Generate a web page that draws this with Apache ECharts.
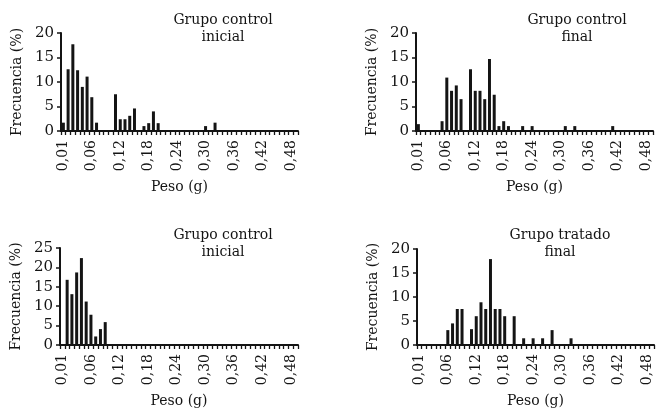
<!DOCTYPE html>
<html>
<head>
<meta charset="utf-8">
<script src="https://cdn.jsdelivr.net/npm/echarts@6/dist/echarts.min.js"></script>
<style>
  html, body { margin: 0; padding: 0; background: #fff; }
  #chart { width: 656px; height: 411px; }
</style>
</head>
<body>
<div id="chart"></div>
<script>
// weight bins of 0.01 g, only every sixth one gets a label
const bins = Array.from({ length: 50 }, (_, i) => (i / 100).toFixed(2).replace('.', ','));
const tickLabels = ['0,01', '0,06', '0,12', '0,18', '0,24', '0,30', '0,36', '0,42', '0,48'];

// [bin index, frecuencia %]
const controlInicialA = [
  [0, 1.7], [1, 12.6], [2, 17.7], [3, 12.4], [4, 9.0], [5, 11.1], [6, 6.9], [7, 1.7],
  [11, 7.5], [12, 2.4], [13, 2.4], [14, 3.1], [15, 4.6], [17, 1.0], [18, 1.6], [19, 4.0],
  [20, 1.6], [30, 1.0], [32, 1.7]
];
const controlFinal = [
  [0, 1.4], [5, 2.0], [6, 10.9], [7, 8.2], [8, 9.3], [9, 6.5], [11, 12.6], [12, 8.2],
  [13, 8.2], [14, 6.5], [15, 14.7], [16, 7.4], [17, 1.0], [18, 2.0], [19, 1.0], [22, 1.0],
  [24, 1.0], [31, 1.0], [33, 1.0], [41, 1.0]
];
const controlInicialB = [
  [1, 16.8], [2, 13.1], [3, 18.7], [4, 22.4], [5, 11.2], [6, 7.8], [7, 2.2], [8, 4.1], [9, 5.9]
];
const tratadoFinal = [
  [6, 3.1], [7, 4.5], [8, 7.5], [9, 7.5], [11, 3.3], [12, 6.0], [13, 8.9], [14, 7.5],
  [15, 17.9], [16, 7.5], [17, 7.5], [18, 6.0], [20, 6.0], [22, 1.4], [24, 1.4], [26, 1.4],
  [28, 3.1], [32, 1.4]
];

const titles = ['Grupo control\ninicial', 'Grupo control\nfinal', 'Grupo control\ninicial', 'Grupo tratado\nfinal'];
const yMax = [20, 20, 25, 20];
const panelData = [controlInicialA, controlFinal, controlInicialB, tratadoFinal];

const FONT = 'DejaVu Serif';
const INK = '#141414';

const grids = [
  { left: 61, top: 33, width: 237, height: 98 },
  { left: 416, top: 33, width: 237, height: 98 },
  { left: 60, top: 248, width: 238, height: 97 },
  { left: 417, top: 249, width: 237, height: 96 }
];
const titlePos = [[223, 12], [577, 12], [223, 227], [560, 227]];

const chart = echarts.init(document.getElementById('chart'));

chart.setOption({
  animation: false,
  backgroundColor: '#fff',
  grid: grids,
  xAxis: grids.map((g, i) => ({
    type: 'category',
    gridIndex: i,
    data: bins,
    name: 'Peso (g)',
    nameLocation: 'middle',
    nameGap: 49,
    nameTextStyle: { fontFamily: FONT, fontSize: 14, color: INK },
    axisLine: { lineStyle: { color: INK, width: 2 } },
    axisTick: {
      show: true,
      interval: 0,
      alignWithLabel: false,
      length: 4,
      lineStyle: { color: INK, width: 1.3 }
    },
    axisLabel: {
      interval: (idx) => idx % 6 === 0,
      rotate: 90,
      margin: 9,
      fontFamily: FONT,
      fontSize: 14,
      color: INK,
      formatter: (v, idx) => tickLabels[idx / 6]
    },
    splitLine: { show: false }
  })),
  yAxis: grids.map((g, i) => ({
    type: 'value',
    gridIndex: i,
    min: 0,
    max: yMax[i],
    interval: 5,
    name: 'Frecuencia (%)',
    nameLocation: 'middle',
    nameGap: 37,
    nameTextStyle: { fontFamily: FONT, fontSize: 14, color: INK },
    axisLine: { show: true, lineStyle: { color: INK, width: 2 } },
    axisTick: { show: true, length: 4, lineStyle: { color: INK, width: 1.5 } },
    axisLabel: { margin: 7, fontFamily: FONT, fontSize: 15, color: INK },
    splitLine: { show: false }
  })),
  series: panelData.map((d, i) => ({
    type: 'bar',
    xAxisIndex: i,
    yAxisIndex: i,
    data: d,
    barWidth: 3,
    itemStyle: { color: INK }
  })),
  graphic: titles.map((t, i) => ({
    type: 'text',
    x: titlePos[i][0],
    y: titlePos[i][1],
    style: {
      text: t,
      font: '14px "' + FONT + '"',
      fill: INK,
      textAlign: 'center',
      textVerticalAlign: 'top',
      lineHeight: 17
    }
  }))
});
</script>
</body>
</html>
